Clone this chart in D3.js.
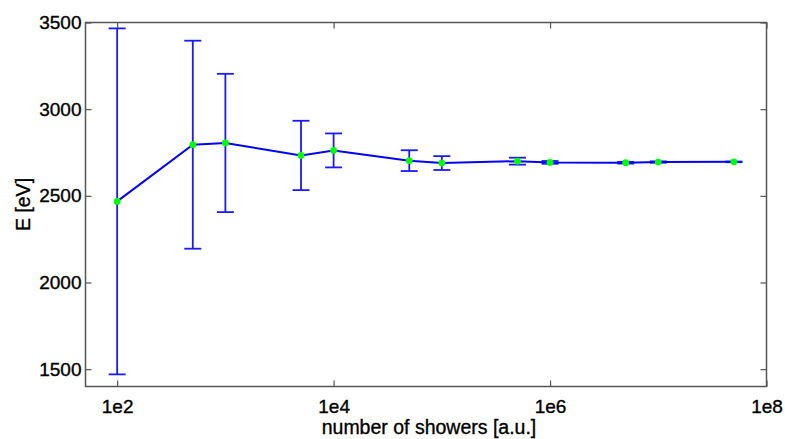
<!DOCTYPE html>
<html>
<head>
<meta charset="utf-8">
<script src="https://cdn.jsdelivr.net/npm/d3@7"></script>
<style>
  html, body { margin: 0; padding: 0; background: #fff; }
  svg { display: block; }
  text { font-family: "Liberation Sans", Arial, Helvetica, sans-serif; fill: #000; }
</style>
</head>
<body>
<svg id="chart" width="785" height="439"></svg>
<script>
// Data
const showers = [100, 500, 1000, 5000, 1e4, 5e4, 1e5, 5e5, 1e6, 5e6, 1e7, 5e7];
const energy  = [2468, 2795, 2805, 2733, 2762, 2703, 2689, 2700, 2693, 2691, 2695, 2696];
const errors  = [998, 600, 399, 200, 98, 60, 40, 20, 8, 5, 4, 2];
const xTicks = [1e2, 1e4, 1e6, 1e8];
const xTickLabels = ["1e2", "1e4", "1e6", "1e8"];
const yTicks = [1500, 2000, 2500, 3000, 3500];
const xDomain = [51, 1e8];
const yDomain = [1400, 3500];

const svg = d3.select("#chart");
const m = { left: 85.5, right: 766.5, top: 22.5, bottom: 386.5 };

const x = d3.scaleLog().domain(xDomain).range([m.left, m.right]);
const y = d3.scaleLinear().domain(yDomain).range([m.bottom, m.top]);

const axisColor = "#555";
const tickLen = 6;

// Frame
svg.append("rect")
  .attr("x", m.left).attr("y", m.top)
  .attr("width", m.right - m.left).attr("height", m.bottom - m.top)
  .attr("fill", "none").attr("stroke", axisColor).attr("stroke-width", 1.5);

// Axes via d3 (inward ticks)
const xAxisB = d3.axisBottom(x).tickValues(xTicks).tickSize(-tickLen).tickPadding(13)
  .tickFormat((d, i) => xTickLabels[i]);
const gxb = svg.append("g").attr("transform", `translate(0,${m.bottom})`).call(xAxisB);
const xAxisT = d3.axisTop(x).tickValues(xTicks).tickSize(-tickLen).tickFormat("");
const gxt = svg.append("g").attr("transform", `translate(0,${m.top})`).call(xAxisT);
const yAxisL = d3.axisLeft(y).tickValues(yTicks).tickSize(-tickLen).tickPadding(4)
  .tickFormat(d3.format("d"));
const gyl = svg.append("g").attr("transform", `translate(${m.left},0)`).call(yAxisL);
const yAxisR = d3.axisRight(y).tickValues(yTicks).tickSize(-tickLen).tickFormat("");
const gyr = svg.append("g").attr("transform", `translate(${m.right},0)`).call(yAxisR);

[gxb, gxt, gyl, gyr].forEach(g => {
  g.select(".domain").remove();
  g.selectAll(".tick line").attr("stroke", axisColor).attr("stroke-width", 1.2);
  g.selectAll(".tick text")
    .style("font-size", "19px").style("fill", "#000")
    .style("stroke", "#000").style("stroke-width", "0.35px")
    .style("font-family", '"Liberation Sans", Arial, sans-serif');
});
gxb.selectAll(".tick text").attr("dy", "0.71em");

// Error bars
const capHalf = 8.5;
const eb = svg.append("g").attr("stroke", "#1a1aff").attr("stroke-width", 1.8).attr("fill", "none");
showers.forEach((s, i) => {
  const cx = x(s), y1 = y(energy[i] + errors[i]), y0 = y(energy[i] - errors[i]);
  eb.append("line").attr("x1", cx).attr("x2", cx).attr("y1", y1).attr("y2", y0);
  eb.append("line").attr("x1", cx - capHalf).attr("x2", cx + capHalf).attr("y1", y1).attr("y2", y1);
  eb.append("line").attr("x1", cx - capHalf).attr("x2", cx + capHalf).attr("y1", y0).attr("y2", y0);
});

// Line
const line = d3.line().x((d, i) => x(showers[i])).y(d => y(d));
svg.append("path").datum(energy).attr("d", line)
  .attr("fill", "none").attr("stroke", "#0000ff").attr("stroke-width", 2);

// Markers
svg.append("g").selectAll("circle").data(energy).join("circle")
  .attr("cx", (d, i) => x(showers[i])).attr("cy", d => y(d)).attr("r", 3.4)
  .attr("fill", "#00ff00");

// Axis labels
svg.append("text").attr("x", (m.left + m.right) / 2 + 3).attr("y", 434)
  .attr("text-anchor", "middle")
  .style("font-size", "19.5px").style("stroke", "#000").style("stroke-width", "0.35px")
  .text("number of showers [a.u.]");
svg.append("text").attr("transform", `translate(30,${(m.top + m.bottom) / 2}) rotate(-90)`)
  .attr("text-anchor", "middle")
  .style("font-size", "19.5px").style("stroke", "#000").style("stroke-width", "0.35px")
  .text("E [eV]");
</script>
</body>
</html>
